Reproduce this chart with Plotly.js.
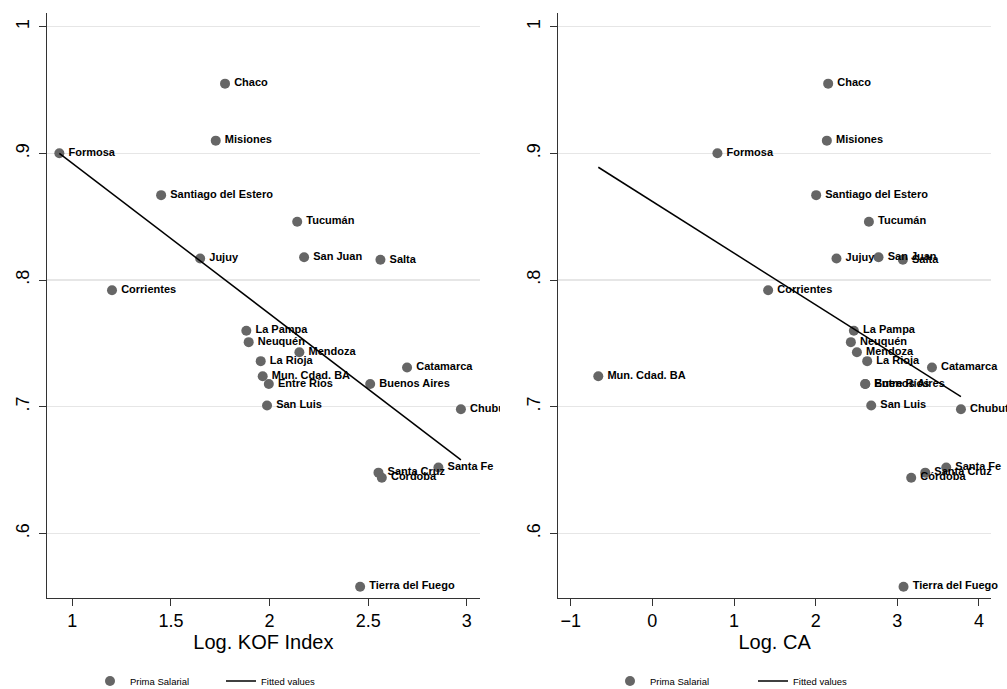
<!DOCTYPE html>
<html>
<head>
<meta charset="utf-8">
<script src="https://cdn.plot.ly/plotly-3.0.1.min.js"></script>
<style>
  html, body { margin: 0; padding: 0; background: #fff; }
  #chart { width: 1007px; height: 689px; }
</style>
</head>
<body>
<div id="chart"></div>
<script>
// ---- Data ----
const provinces = ["Chaco", "Misiones", "Formosa", "Santiago del Estero", "Tucumán", "Jujuy", "San Juan", "Salta",
  "Corrientes", "La Pampa", "Neuquén", "Mendoza", "La Rioja", "Mun. Cdad. BA", "Entre Ríos", "San Luis",
  "Buenos Aires", "Catamarca", "Chubut", "Santa Fe", "Santa Cruz", "Córdoba", "Tierra del Fuego"];

const primaSalarial = [0.955, 0.910, 0.900, 0.867, 0.846, 0.817, 0.818, 0.816,
  0.792, 0.760, 0.751, 0.743, 0.736, 0.724, 0.718, 0.701,
  0.718, 0.731, 0.698, 0.652, 0.648, 0.644, 0.558];

const logKOF = [1.774, 1.727, 0.934, 1.450, 2.140, 1.648, 2.175, 2.562,
  1.201, 1.882, 1.894, 2.151, 1.955, 1.965, 1.996, 1.987,
  2.510, 2.697, 2.970, 2.856, 2.552, 2.569, 2.459];

const logCA = [2.153, 2.137, 0.797, 2.006, 2.652, 2.255, 2.770, 3.068,
  1.418, 2.468, 2.431, 2.505, 2.631, -0.662, 2.607, 2.680,
  2.607, 3.424, 3.779, 3.599, 3.342, 3.170, 3.076];

// Fitted values (line endpoints)
const fitKOFx = [0.934, 2.970];
const fitKOFy = [0.900, 0.658];
const fitCAx = [-0.662, 3.779];
const fitCAy = [0.889, 0.708];

const yTickVals = [0.6, 0.7, 0.8, 0.9, 1];
const yTickText = [".6", ".7", ".8", ".9", "1"];
const kofTickVals = [1, 1.5, 2, 2.5, 3];
const kofTickText = ["1", "1.5", "2", "2.5", "3"];
const caTickVals = [-1, 0, 1, 2, 3, 4];
const caTickText = ["\u22121", "0", "1", "2", "3", "4"];

// ---- Styles ----
const FONT = "Liberation Sans, Arial, Helvetica, sans-serif";
const markerColor = "#666666";

const Y_RANGE = [0.5493, 1.0105];
const Y_DOMAIN = [0.1325, 0.9807];
const KOF_RANGE = [0.870, 3.067];
const KOF_DOMAIN = [0.0464, 0.4767];
const CA_RANGE = [-1.152, 4.147];
const CA_DOMAIN = [0.5544, 0.9841];
// Label layers: same scale, wider clip area (labels run into the graph margin as in the original)
const KOF_LBL_RANGE = [0.870, 3.168];
const KOF_LBL_DOMAIN = [0.0464, 0.4965];
const CA_LBL_RANGE = [-1.152, 4.343];
const CA_LBL_DOMAIN = [0.5544, 1.0];

function panelTraces(xv, fx, fy, xa, ya, lxa, lya, leg) {
  return [
    {
      x: xv, y: primaSalarial, type: "scatter", mode: "markers",
      name: "Prima Salarial", xaxis: xa, yaxis: ya, legend: leg,
      marker: { color: markerColor, size: 10 },
      cliponaxis: true, hoverinfo: "x+y"
    },
    {
      x: fx, y: fy, type: "scatter", mode: "lines",
      name: "Fitted values", xaxis: xa, yaxis: ya, legend: leg,
      line: { color: "#000000", width: 1.5 }, cliponaxis: true
    },
    {
      x: xv, y: primaSalarial, type: "scatter", mode: "markers+text",
      text: provinces, textposition: "middle right",
      textfont: { family: FONT, size: 11, color: "#000000", weight: "bold" },
      marker: { color: "rgba(0,0,0,0)", size: 13 },
      xaxis: lxa, yaxis: lya, showlegend: false, cliponaxis: true, hoverinfo: "text"
    }
  ];
}

const data = [
  ...panelTraces(logKOF, fitKOFx, fitKOFy, "x", "y", "x3", "y3", "legend"),
  ...panelTraces(logCA, fitCAx, fitCAy, "x2", "y2", "x4", "y4", "legend2")
];

const yAxisCommon = {
  range: Y_RANGE,
  tickmode: "array", tickvals: yTickVals, ticktext: yTickText,
  tickangle: -90,
  ticks: "outside", ticklen: 7, tickwidth: 1, tickcolor: "#333",
  ticklabelstandoff: 3,
  showline: true, linecolor: "#333", linewidth: 1,
  showgrid: true, gridcolor: "#e6e6e6", gridwidth: 1.2,
  zeroline: false,
  tickfont: { family: FONT, size: 18, color: "#000" },
  domain: Y_DOMAIN
};
const xAxisCommon = {
  ticks: "outside", ticklen: 7, tickwidth: 1, tickcolor: "#333",
  showline: true, linecolor: "#333", linewidth: 1,
  showgrid: false, zeroline: false,
  tickfont: { family: FONT, size: 18, color: "#000" },
  tickmode: "array"
};
const hiddenAxis = { visible: false, showgrid: false, zeroline: false, fixedrange: true };

const layout = {
  width: 1007, height: 689,
  margin: { l: 0, r: 0, t: 0, b: 0, autoexpand: false },
  paper_bgcolor: "#ffffff", plot_bgcolor: "rgba(0,0,0,0)",
  font: { family: FONT, color: "#000" },
  showlegend: true,
  xaxis: Object.assign({}, xAxisCommon, {
    range: KOF_RANGE, domain: KOF_DOMAIN, anchor: "y",
    tickvals: kofTickVals, ticktext: kofTickText,
    title: { text: "Log. KOF Index", font: { family: FONT, size: 20, color: "#000" }, standoff: 2 }
  }),
  yaxis: Object.assign({}, yAxisCommon, { anchor: "x" }),
  xaxis2: Object.assign({}, xAxisCommon, {
    range: CA_RANGE, domain: CA_DOMAIN, anchor: "y2",
    tickvals: caTickVals, ticktext: caTickText,
    title: { text: "Log. CA", font: { family: FONT, size: 20, color: "#000" }, standoff: 2 }
  }),
  yaxis2: Object.assign({}, yAxisCommon, { anchor: "x2" }),
  xaxis3: Object.assign({}, hiddenAxis, { range: KOF_LBL_RANGE, domain: KOF_LBL_DOMAIN, anchor: "y3" }),
  yaxis3: Object.assign({}, hiddenAxis, { range: Y_RANGE, domain: Y_DOMAIN, anchor: "x3" }),
  xaxis4: Object.assign({}, hiddenAxis, { range: CA_LBL_RANGE, domain: CA_LBL_DOMAIN, anchor: "y4" }),
  yaxis4: Object.assign({}, hiddenAxis, { range: Y_RANGE, domain: Y_DOMAIN, anchor: "x4" }),
  legend: {
    orientation: "h", x: 90 / 1007, xanchor: "left", y: 8 / 689, yanchor: "middle",
    font: { family: FONT, size: 9.5, color: "#000" },
    entrywidth: 86, entrywidthmode: "pixels", bgcolor: "rgba(0,0,0,0)", borderwidth: 0
  },
  legend2: {
    orientation: "h", x: 610 / 1007, xanchor: "left", y: 8 / 689, yanchor: "middle",
    font: { family: FONT, size: 9.5, color: "#000" },
    entrywidth: 98, entrywidthmode: "pixels", bgcolor: "rgba(0,0,0,0)", borderwidth: 0
  }
};

Plotly.newPlot("chart", data, layout, { displayModeBar: false, staticPlot: true });
</script>
</body>
</html>
